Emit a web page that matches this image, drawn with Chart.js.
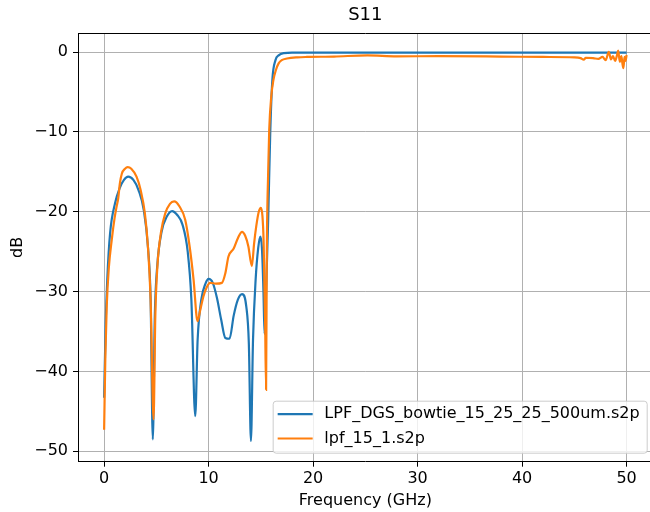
<!DOCTYPE html>
<html lang="en">
<head>
    <meta charset="UTF-8">
    <title>S11</title>
    <script src="https://cdn.jsdelivr.net/npm/chart.js"></script>
    <style>
        body {
            margin: 0;
            background: #fff;
        }
        #wrap {
            width: 650px;
            height: 512px;
            overflow: hidden;
        }
    </style>
</head>
<body>
    <div id="wrap">
        <canvas id="myChart" width="660" height="512"></canvas>
    </div>

    <script>
        // bowtie filter (blue)
        const freqBowtie = [0, 0.15, 0.3, 0.57, 1.05, 1.5, 1.9, 2.3, 2.8, 3.3, 3.8, 4.2, 4.45, 4.66, 4.85, 5.1, 5.5, 6.0, 6.5, 7.0,
            7.5, 8.0, 8.35, 8.72, 8.95, 9.3, 9.7, 10.0, 10.4, 10.8, 11.2, 11.6, 12.0, 12.4, 12.8, 13.2, 13.6, 13.85, 14.05, 14.25,
            14.5, 14.75, 14.95, 15.1, 15.25, 15.35, 15.5, 15.7, 15.9, 16.1, 16.4, 16.7, 17.2, 18, 25, 35, 50];
        const dbBowtie = [-43.3, -34, -28.5, -22.7, -18.9, -17.0, -16.0, -15.6, -16.0, -17.3, -19.8, -24.5, -31, -48.5, -33, -26.5, -22.5, -20.6, -19.9, -20.4,
            -21.6, -25, -31, -45.6, -36, -31, -29, -28.4, -28.9, -30.8, -33.5, -35.8, -35.9, -33, -31, -30.3, -31.8, -36.5, -48.7, -36,
            -28.5, -24.5, -23.1, -24.5, -30, -35.3, -30, -21, -10, -3.5, -1.0, -0.4, -0.12, -0.06, -0.05, -0.05, -0.05];

        // lpf_15_1 (orange)
        const freqLpf = [0, 0.12, 0.25, 0.45, 0.73, 1.0, 1.2, 1.35, 1.5, 1.7, 2.0, 2.25, 2.6, 3.1, 3.5, 3.9, 4.2, 4.45, 4.73, 4.9,
            5.1, 5.45, 5.85, 6.3, 6.7, 7.2, 7.76, 8.2, 8.56, 8.94, 9.2, 9.5, 9.8, 10.15, 10.7, 11.27, 11.6, 11.9, 12.4, 12.8,
            13.2, 13.5, 13.8, 14.14, 14.35, 14.56, 14.8, 15.0, 15.15, 15.26, 15.4, 15.5, 15.57, 15.7, 15.8, 16.0, 16.2, 16.45, 16.7, 17.0,
            17.5, 18.5, 19.4, 22, 25.2, 28, 32, 38, 42, 45.0, 45.6, 45.9, 46.1, 46.8, 47.3, 47.7, 48.0, 48.3, 48.5, 48.7,
            48.9, 49.1, 49.2, 49.35, 49.5, 49.6, 49.7, 49.8, 49.9, 50];
        const dbLpf = [-47.3, -38, -31.8, -27, -23.5, -20.8, -19.3, -18.3, -16.5, -15.2, -14.6, -14.4, -14.6, -15.6, -17.3, -20.2, -24.5, -31, -46, -33,
            -26.8, -22.5, -20.2, -19, -18.7, -19.3, -21, -24.5, -28.5, -33.7, -32.3, -30.6, -29.5, -28.9, -29, -28.9, -27.7, -25.6, -24.6, -23.3,
            -22.5, -23, -24.3, -26.8, -24, -21.8, -20, -19.5, -20.5, -23.5, -33, -42.3, -25, -15, -9.75, -5.5, -3.5, -2.2, -1.4, -1.0,
            -0.8, -0.65, -0.6, -0.55, -0.4, -0.52, -0.5, -0.55, -0.6, -0.65, -0.75, -0.95, -0.7, -0.75, -0.85, -0.6, -1.0, 0.05, -0.9, -0.5,
            -1.1, -0.3, 0.2, -1.2, -0.5, -1.4, -2.0, -0.6, -1.1, -0.35];

        const xTicks = [0, 10, 20, 30, 40, 50];
        const yTicks = [-50, -40, -30, -20, -10, 0];

        const seriesNames = ['LPF_DGS_bowtie_15_25_25_500um.s2p', 'lpf_15_1.s2p'];
        const seriesColors = ['#1f77b4', '#ff7f0e'];

        const FONT = 'DejaVu Sans';

        function toPoints(xs, ys) {
            return xs.map((x, i) => ({ x: x, y: ys[i] }));
        }

        // matplotlib style: top spine + legend box in the lower right corner
        const mplExtras = {
            id: 'mplExtras',
            afterDraw(chart) {
                const ctx = chart.ctx;
                const a = chart.chartArea;
                ctx.save();
                ctx.strokeStyle = '#000';
                ctx.lineWidth = 1;
                ctx.beginPath();
                ctx.moveTo(a.left, a.top + 0.5);
                ctx.lineTo(a.right, a.top + 0.5);
                ctx.stroke();

                // legend
                ctx.font = '16px "' + FONT + '"';
                let textW = 0;
                seriesNames.forEach(n => { textW = Math.max(textW, ctx.measureText(n).width); });
                const boxW = 5 + 35 + 11.7 + textW + 7;
                const boxH = 52;
                const right = a.right - 6;
                const bottom = a.bottom - 9;
                const left = right - boxW;
                const top = bottom - boxH;
                ctx.fillStyle = 'rgba(255,255,255,0.8)';
                ctx.strokeStyle = '#cccccc';
                ctx.beginPath();
                ctx.roundRect(left + 0.5, top + 0.5, boxW, boxH, 3);
                ctx.fill();
                ctx.stroke();

                ctx.textBaseline = 'middle';
                ctx.textAlign = 'left';
                seriesNames.forEach((n, i) => {
                    const y = top + 13.5 + i * 24.3;
                    ctx.strokeStyle = seriesColors[i];
                    ctx.lineWidth = 2.2;
                    ctx.beginPath();
                    ctx.moveTo(left + 5, y);
                    ctx.lineTo(left + 40, y);
                    ctx.stroke();
                    ctx.fillStyle = '#000';
                    ctx.fillText(n, left + 51.7, y);
                });
                ctx.restore();
            }
        };

        var ctx = document.getElementById('myChart').getContext('2d');
        var myChart = new Chart(ctx, {
            type: 'line',
            data: {
                datasets: [{
                    label: seriesNames[0],
                    data: toPoints(freqBowtie, dbBowtie),
                    borderColor: seriesColors[0],
                    borderWidth: 2.2,
                    pointRadius: 0,
                    cubicInterpolationMode: 'monotone',
                    order: 2
                }, {
                    label: seriesNames[1],
                    data: toPoints(freqLpf, dbLpf),
                    borderColor: seriesColors[1],
                    borderWidth: 2.2,
                    pointRadius: 0,
                    cubicInterpolationMode: 'monotone',
                    order: 1
                }]
            },
            options: {
                responsive: false,
                animation: false,
                devicePixelRatio: 1,
                layout: {
                    padding: { left: 0, right: 7.3, top: 0, bottom: 0 }
                },
                plugins: {
                    legend: { display: false },
                    tooltip: { enabled: false },
                    title: {
                        display: true,
                        text: 'S11',
                        fullSize: false,
                        color: '#000',
                        font: { family: FONT, size: 18, weight: 'normal', lineHeight: 1.2 },
                        padding: { top: 5, bottom: 6.4 }
                    }
                },
                scales: {
                    x: {
                        type: 'linear',
                        min: -2.5,
                        max: 52.5,
                        afterBuildTicks: (scale) => { scale.ticks = xTicks.map(v => ({ value: v })); },
                        afterFit: (scale) => { scale.height = 50.3; },
                        grid: { color: '#b0b0b0', lineWidth: 1, tickColor: '#000', tickLength: 5, tickWidth: 1 },
                        border: { color: '#000', width: 1 },
                        ticks: {
                            color: '#000',
                            padding: 3,
                            maxRotation: 0,
                            font: { family: FONT, size: 16 },
                            callback: (v) => String(v)
                        },
                        title: {
                            display: true,
                            text: 'Frequency (GHz)',
                            color: '#000',
                            font: { family: FONT, size: 16, lineHeight: 1.2 },
                            padding: { top: 0, bottom: 2 }
                        }
                    },
                    y: {
                        type: 'linear',
                        min: -51.3,
                        max: 2.4,
                        afterBuildTicks: (scale) => { scale.ticks = yTicks.map(v => ({ value: v })); },
                        afterFit: (scale) => { scale.width = 78; },
                        grid: { color: '#b0b0b0', lineWidth: 1, tickColor: '#000', tickLength: 5, tickWidth: 1 },
                        border: { color: '#000', width: 1 },
                        ticks: {
                            color: '#000',
                            padding: 5,
                            font: { family: FONT, size: 16 },
                            callback: (v) => (v < 0 ? '\u2212' + Math.abs(v) : String(v))
                        },
                        title: {
                            display: true,
                            text: 'dB',
                            color: '#000',
                            font: { family: FONT, size: 16, lineHeight: 1.2 },
                            padding: { top: 8, bottom: 0 }
                        }
                    }
                }
            },
            plugins: [mplExtras]
        });
    </script>
</body>
</html>
